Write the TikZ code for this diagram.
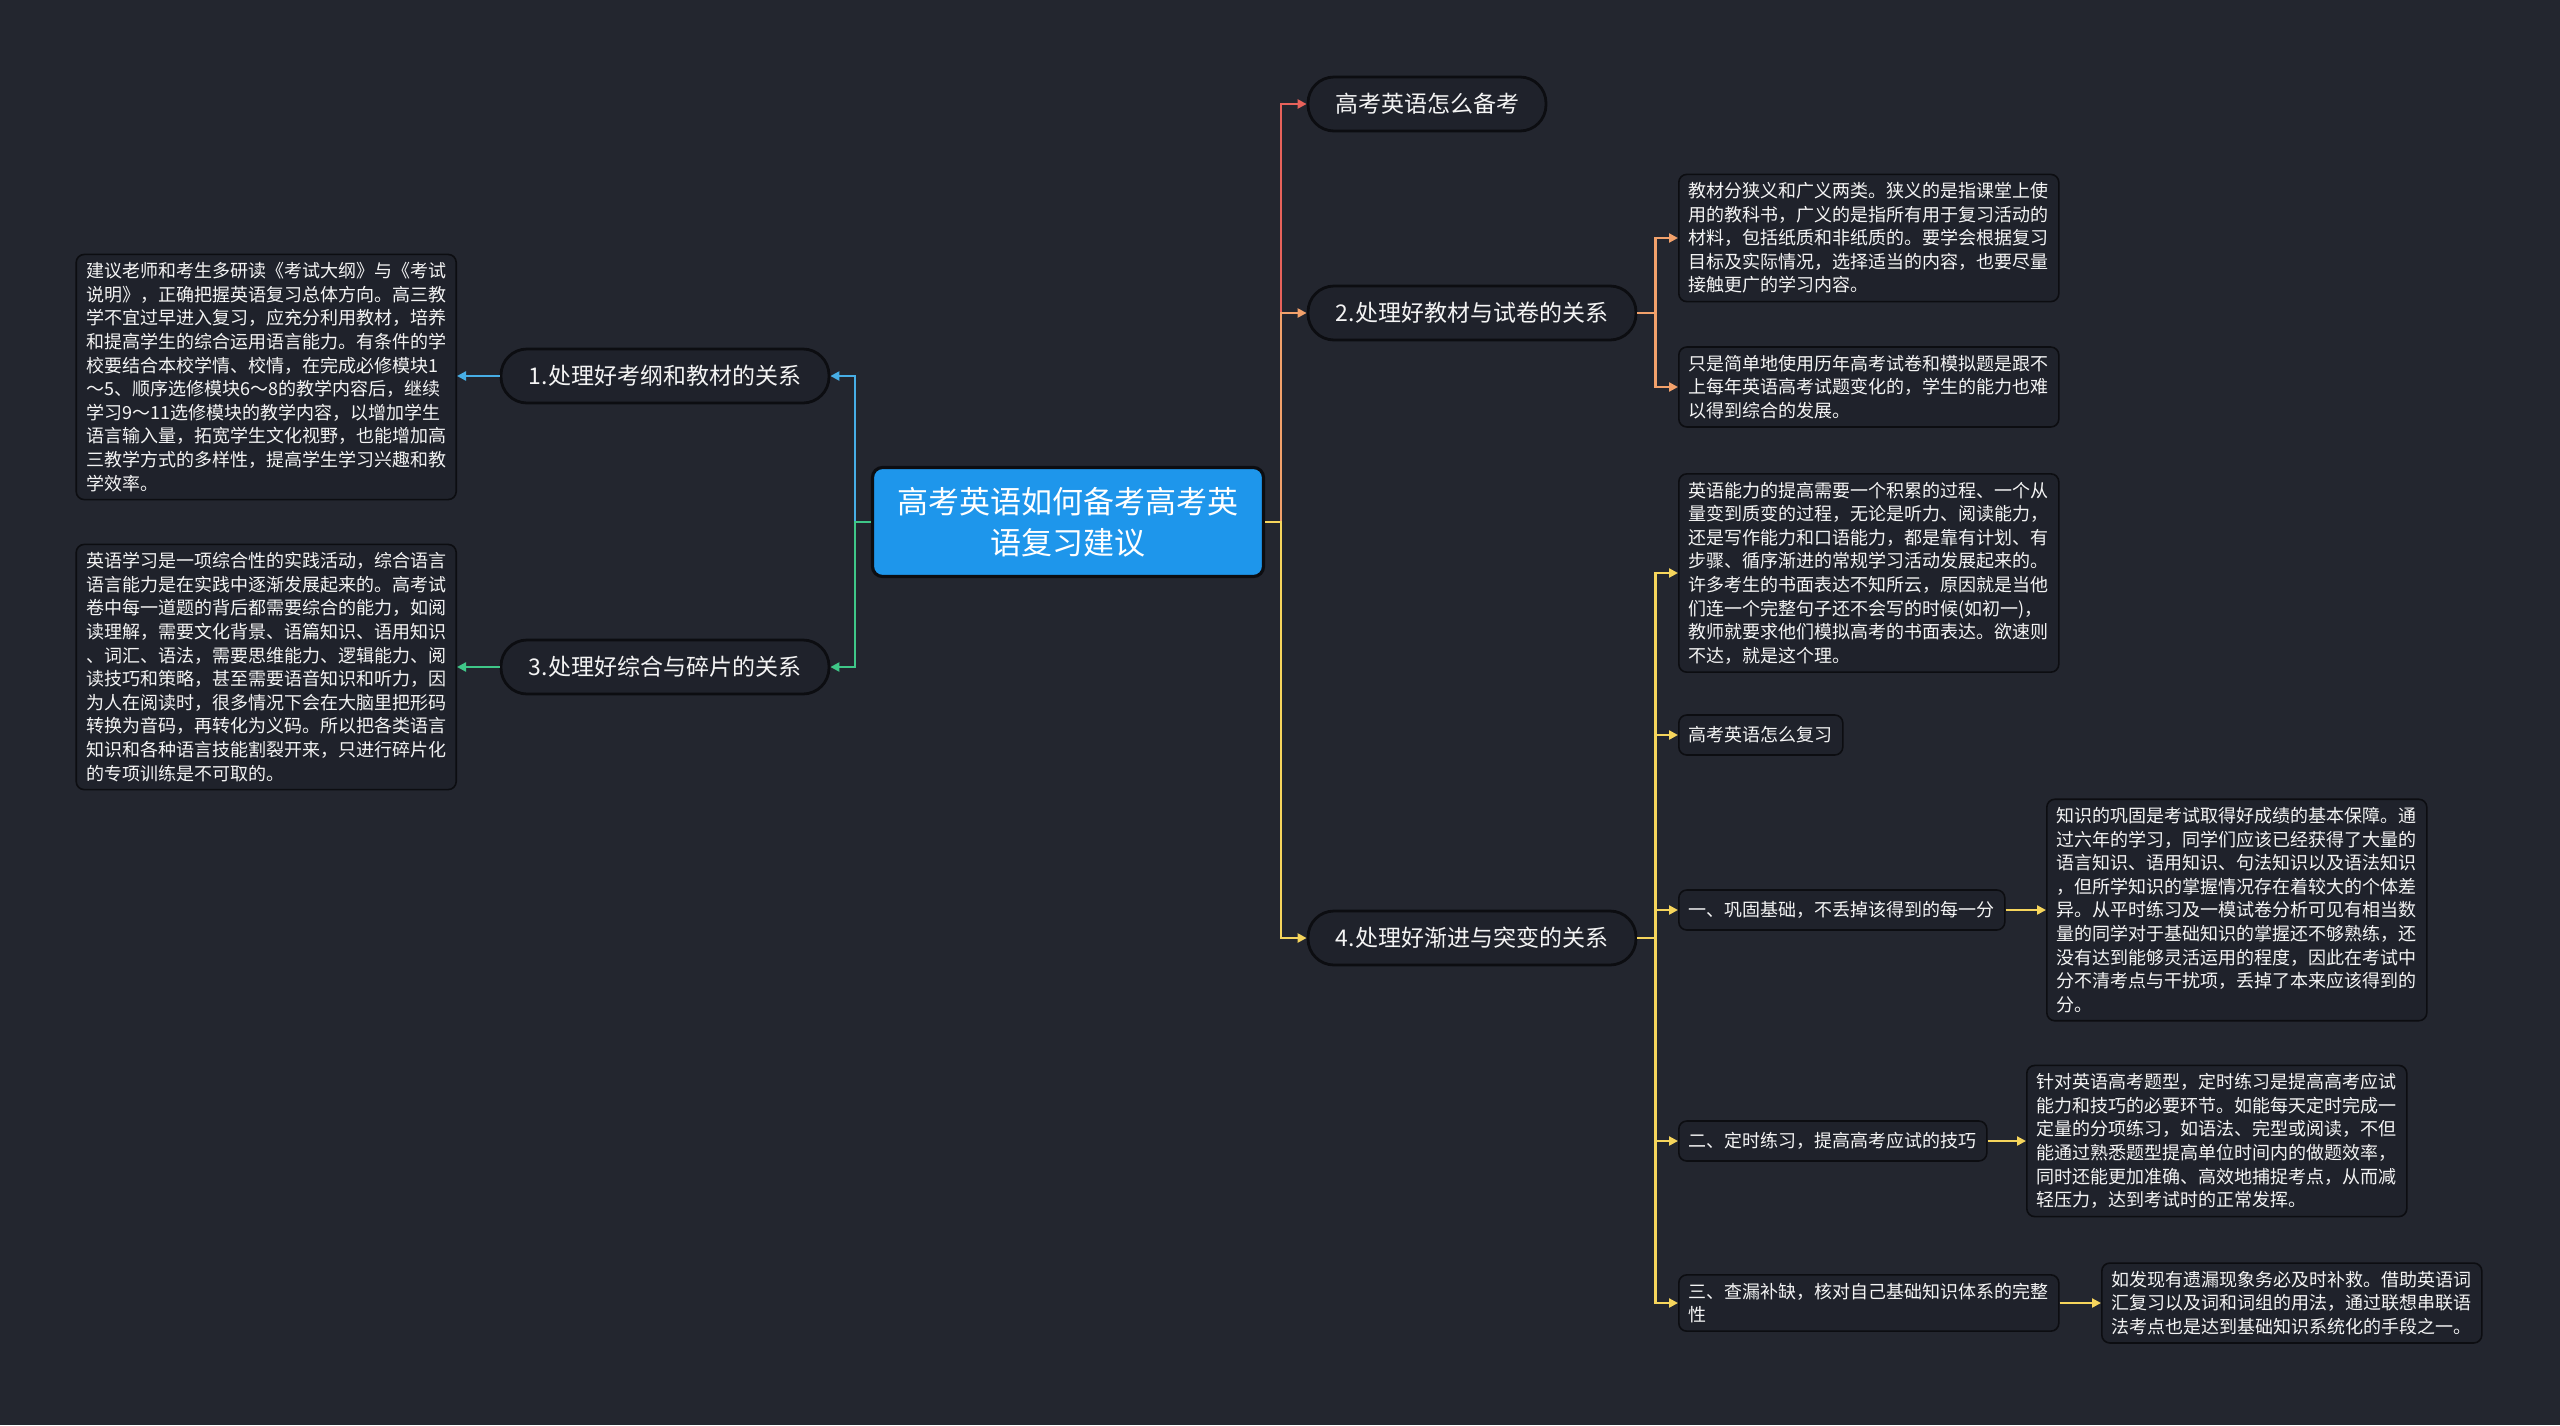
\documentclass[tikz,border=0pt]{standalone}
\usepackage{fontspec}
\setmainfont{Noto Sans CJK SC}
\usetikzlibrary{arrows.meta}
\definecolor{bgc}{HTML}{23262F}
\definecolor{nodefill}{HTML}{1F222B}
\definecolor{nodeline}{HTML}{0C0D11}
\definecolor{txtc}{HTML}{F4F4F4}
\definecolor{rootfill}{HTML}{1E96EB}
\definecolor{cred}{HTML}{E8625B}
\definecolor{corange}{HTML}{F2A16B}
\definecolor{cyellow}{HTML}{F6D55C}
\definecolor{cblue}{HTML}{47AEE6}
\definecolor{cgreen}{HTML}{3FC788}
\tikzset{
  mainnode/.style={draw=nodeline, line width=1.4pt, fill=nodefill, rounded corners=13pt,
    minimum height=27pt, minimum width=164pt, text=txtc, font=\fontsize{11.5}{13.5}\selectfont, inner xsep=6pt},
  rootnode/.style={draw=nodeline, line width=1.6pt, fill=rootfill, rounded corners=5pt,
    minimum height=54.5pt, minimum width=195.5pt, text=white, align=center,
    font=\fontsize{15.5}{20.5}\selectfont},
  textbox/.style={draw=nodeline, line width=0.8pt, fill=nodefill, rounded corners=4pt,
    text width=180pt, inner xsep=5pt, inner ysep=4pt, align=left, text=txtc,
    font=\fontsize{9}{11.8}\selectfont},
  smallbox/.style={draw=nodeline, line width=0.8pt, fill=nodefill, rounded corners=4pt,
    minimum height=20pt, inner xsep=5pt, text=txtc, font=\fontsize{9}{11.8}\selectfont},
  conn/.style={line width=1.2pt, -{Triangle[length=4.5pt,width=4.5pt]}},
}
\begin{document}
\begin{tikzpicture}[x=0.5pt,y=-0.5pt]
\fill[bgc] (0,0) rectangle (2560,1425);
\useasboundingbox (0,0) rectangle (2560,1425);

% nodes
\node[rootnode] (root) at (1068,522) {高考英语如何备考高考英\\语复习建议};
\node[mainnode, minimum width=119pt] (n0) at (1427,104) {高考英语怎么备考};
\node[mainnode] (n2) at (1472,313) {2.处理好教材与试卷的关系};
\node[mainnode] (n4) at (1472,938) {4.处理好渐进与突变的关系};
\node[mainnode] (n1) at (665,376) {1.处理好考纲和教材的关系};
\node[mainnode] (n3) at (665,667) {3.处理好综合与碎片的关系};

\node[textbox, anchor=east] (t1) at (457,377) {建议老师和考生多研读《考试大纲》与《考试\\%
说明》，正确把握英语复习总体方向。高三教\\%
学不宜过早进入复习，应充分利用教材，培养\\%
和提高学生的综合运用语言能力。有条件的学\\%
校要结合本校学情、校情，在完成必修模块1\\%
～5、顺序选修模块6～8的教学内容后，继续\\%
学习9～11选修模块的教学内容，以增加学生\\%
语言输入量，拓宽学生文化视野，也能增加高\\%
三教学方式的多样性，提高学生学习兴趣和教\\%
学效率。};

\node[textbox, anchor=east] (t3) at (457,667) {英语学习是一项综合性的实践活动，综合语言\\%
语言能力是在实践中逐渐发展起来的。高考试\\%
卷中每一道题的背后都需要综合的能力，如阅\\%
读理解，需要文化背景、语篇知识、语用知识\\%
、词汇、语法，需要思维能力、逻辑能力、阅\\%
读技巧和策略，甚至需要语音知识和听力，因\\%
为人在阅读时，很多情况下会在大脑里把形码\\%
转换为音码，再转化为义码。所以把各类语言\\%
知识和各种语言技能割裂开来，只进行碎片化\\%
的专项训练是不可取的。};

\node[textbox, anchor=west] (t2a) at (1678,238) {教材分狭义和广义两类。狭义的是指课堂上使\\%
用的教科书，广义的是指所有用于复习活动的\\%
材料，包括纸质和非纸质的。要学会根据复习\\%
目标及实际情况，选择适当的内容，也要尽量\\%
接触更广的学习内容。};

\node[textbox, anchor=west] (t2b) at (1678,387) {只是简单地使用历年高考试卷和模拟题是跟不\\%
上每年英语高考试题变化的，学生的能力也难\\%
以得到综合的发展。};

\node[textbox, anchor=west] (t4a) at (1678,573) {英语能力的提高需要一个积累的过程、一个从\\%
量变到质变的过程，无论是听力、阅读能力，\\%
还是写作能力和口语能力，都是靠有计划、有\\%
步骤、循序渐进的常规学习活动发展起来的。\\%
许多考生的书面表达不知所云，原因就是当他\\%
们连一个完整句子还不会写的时候(如初一)，\\%
教师就要求他们模拟高考的书面表达。欲速则\\%
不达，就是这个理。};

\node[smallbox, anchor=west] (t4b) at (1678,735) {高考英语怎么复习};
\node[smallbox, anchor=west] (t4c) at (1678,910) {一、巩固基础，不丢掉该得到的每一分};
\node[smallbox, anchor=west] (t4d) at (1678,1141) {二、定时练习，提高高考应试的技巧};
\node[textbox, anchor=west] (t4e) at (1678,1303) {三、查漏补缺，核对自己基础知识体系的完整\\%
性};

\node[textbox, anchor=west] (k1) at (2046,910) {知识的巩固是考试取得好成绩的基本保障。通\\%
过六年的学习，同学们应该已经获得了大量的\\%
语言知识、语用知识、句法知识以及语法知识\\%
，但所学知识的掌握情况存在着较大的个体差\\%
异。从平时练习及一模试卷分析可见有相当数\\%
量的同学对于基础知识的掌握还不够熟练，还\\%
没有达到能够灵活运用的程度，因此在考试中\\%
分不清考点与干扰项，丢掉了本来应该得到的\\%
分。};

\node[textbox, anchor=west] (k2) at (2026,1141) {针对英语高考题型，定时练习是提高高考应试\\%
能力和技巧的必要环节。如能每天定时完成一\\%
定量的分项练习，如语法、完型或阅读，不但\\%
能通过熟悉题型提高单位时间内的做题效率，\\%
同时还能更加准确、高效地捕捉考点，从而减\\%
轻压力，达到考试时的正常发挥。};

\node[textbox, anchor=west] (k3) at (2101,1303) {如发现有遗漏现象务必及时补救。借助英语词\\%
汇复习以及词和词组的用法，通过联想串联语\\%
法考点也是达到基础知识系统化的手段之一。};

% connectors
\draw[conn, cred] (root.east) -- ++(16,0) |- (n0.west);
\draw[conn, corange] (root.east) -- ++(16,0) |- (n2.west);
\draw[conn, cyellow] (root.east) -- ++(16,0) |- (n4.west);
\draw[conn, cblue] (root.west) -- ++(-16,0) |- (n1.east);
\draw[conn, cgreen] (root.west) -- ++(-16,0) |- (n3.east);
\draw[conn, cblue] (n1.west) -- (t1.east |- n1.west);
\draw[conn, cgreen] (n3.west) -- (t3.east |- n3.west);
\draw[conn, corange] (n2.east) -- ++(18,0) |- (t2a.west);
\draw[conn, corange] (n2.east) -- ++(18,0) |- (t2b.west);
\draw[conn, cyellow] (n4.east) -- ++(18,0) |- (t4a.west);
\draw[conn, cyellow] (n4.east) -- ++(18,0) |- (t4b.west);
\draw[conn, cyellow] (n4.east) -- ++(18,0) |- (t4c.west);
\draw[conn, cyellow] (n4.east) -- ++(18,0) |- (t4d.west);
\draw[conn, cyellow] (n4.east) -- ++(18,0) |- (t4e.west);
\draw[conn, cyellow] (t4c.east) -- (k1.west);
\draw[conn, cyellow] (t4d.east) -- (k2.west);
\draw[conn, cyellow] (t4e.east) -- (k3.west);
\end{tikzpicture}
\end{document}
